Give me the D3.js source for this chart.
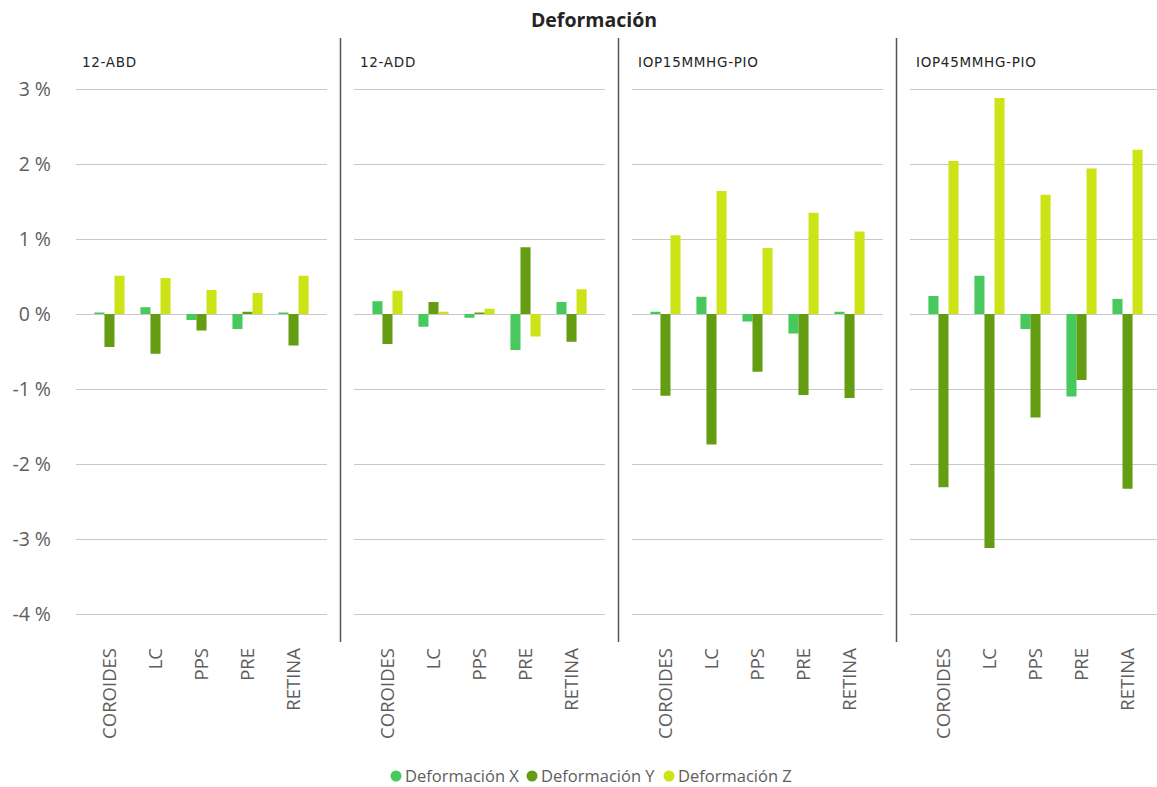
<!DOCTYPE html>
<html>
<head>
<meta charset="utf-8">
<script src="https://cdn.jsdelivr.net/npm/d3@7"></script>
<style>
  html, body { margin: 0; padding: 0; background: #fff; }
  svg { display: block; }
</style>
</head>
<body>
<svg id="chart" width="1157" height="787"></svg>
<script>
// Small-multiple panels (one per load case)
const panels = ["12-ABD", "12-ADD", "IOP15MMHG-PIO", "IOP45MMHG-PIO"];
// Tissue categories on each x axis
const categories = ["COROIDES", "LC", "PPS", "PRE", "RETINA"];
// Series names for the legend
const seriesNames = ["Deformación X", "Deformación Y", "Deformación Z"];
const seriesColors = ["#47C95E", "#649C12", "#CCE415"];

// Strain values in percent, one row per panel, one column per category
const deformX = [
  [0.02, 0.09, -0.08, -0.20, 0.02],
  [0.17, -0.17, -0.05, -0.48, 0.16],
  [0.03, 0.23, -0.10, -0.26, 0.03],
  [0.24, 0.51, -0.20, -1.10, 0.20]
];
const deformY = [
  [-0.44, -0.53, -0.22, 0.03, -0.42],
  [-0.40, 0.16, 0.02, 0.89, -0.37],
  [-1.09, -1.74, -0.77, -1.08, -1.12],
  [-2.31, -3.12, -1.38, -0.88, -2.33]
];
const deformZ = [
  [0.51, 0.48, 0.32, 0.28, 0.51],
  [0.31, 0.03, 0.07, -0.30, 0.33],
  [1.05, 1.64, 0.88, 1.35, 1.10],
  [2.04, 2.88, 1.59, 1.94, 2.19]
];
// Value axis ticks (percent)
const yTicks = [-4, -3, -2, -1, 0, 1, 2, 3];

const seriesData = [deformX, deformY, deformZ];

const svg = d3.select("#chart");
const panelLeft = 76, panelStep = 278, panelWidth = 251;
const textFont = "'Open Sans', 'Noto Sans', sans-serif";

const y = d3.scaleLinear().domain([-4, 3]).range([614, 89]);

// Title
svg.append("text")
  .attr("x", 594).attr("y", 27)
  .attr("text-anchor", "middle")
  .attr("font-family", textFont)
  .attr("font-weight", "bold")
  .attr("font-size", 19.5)
  .attr("fill", "#252423")
  .text("Deformación");

// Y axis labels
const yAxis = svg.append("g")
  .attr("transform", `translate(51,0)`)
  .call(d3.axisLeft(y).tickValues(yTicks).tickSize(0).tickPadding(0).tickFormat(d => `${d} %`));
yAxis.select(".domain").remove();
yAxis.selectAll("text")
  .attr("font-family", textFont)
  .attr("font-size", 19.5)
  .attr("fill", "#605E5C");

panels.forEach((name, p) => {
  const x0 = panelLeft + p * panelStep;
  const x = d3.scaleBand()
    .domain(categories)
    .range([x0, x0 + panelWidth])
    .paddingInner(0.345)
    .paddingOuter(0.4);
  const sub = d3.scaleBand().domain(seriesNames).range([0, x.bandwidth()]);

  const g = svg.append("g");

  // Horizontal gridlines
  const grid = g.append("g")
    .attr("transform", `translate(${x0},0)`)
    .call(d3.axisLeft(y).tickValues(yTicks).tickSize(-panelWidth).tickFormat(""));
  grid.select(".domain").remove();
  grid.selectAll("line").attr("stroke", "#C8C8C8").attr("stroke-width", 1);

  // Panel header
  g.append("text")
    .attr("x", x0 + 6).attr("y", 67)
    .attr("font-family", "'DejaVu Sans', sans-serif")
    .attr("font-size", 13.5)
    .attr("letter-spacing", 0.7)
    .attr("fill", "#252423")
    .text(name);

  // Bars
  seriesNames.forEach((s, si) => {
    g.append("g").selectAll("rect")
      .data(categories.map((c, ci) => ({ c, v: seriesData[si][p][ci] })))
      .join("rect")
      .attr("x", d => x(d.c) + sub(s))
      .attr("width", sub.bandwidth())
      .attr("y", d => y(Math.max(0, d.v)))
      .attr("height", d => Math.abs(y(d.v) - y(0)))
      .attr("fill", seriesColors[si]);
  });

  // Category labels
  const xAxis = g.append("g")
    .attr("transform", `translate(0,648)`)
    .call(d3.axisBottom(x).tickSize(0).tickPadding(0));
  xAxis.select(".domain").remove();
  xAxis.selectAll("text")
    .attr("transform", "rotate(-90)")
    .attr("x", 0).attr("y", 0).attr("dy", "0.35em")
    .attr("text-anchor", "end")
    .attr("font-family", textFont)
    .attr("font-size", 18.5)
    .attr("fill", "#605E5C");

  // Panel separator
  if (p < panels.length - 1) {
    g.append("line")
      .attr("x1", x0 + 264.5).attr("x2", x0 + 264.5)
      .attr("y1", 38).attr("y2", 642)
      .attr("stroke", "#555555").attr("stroke-width", 1.5);
  }
});

// Legend
const legendX = [396, 532, 669];
const legend = svg.append("g");
seriesNames.forEach((s, i) => {
  legend.append("circle")
    .attr("cx", legendX[i]).attr("cy", 776).attr("r", 5.5)
    .attr("fill", seriesColors[i]);
  legend.append("text")
    .attr("x", legendX[i] + 9).attr("y", 776).attr("dy", "0.35em")
    .attr("font-family", textFont)
    .attr("font-size", 16.5)
    .attr("fill", "#605E5C")
    .text(s);
});
</script>
</body>
</html>
